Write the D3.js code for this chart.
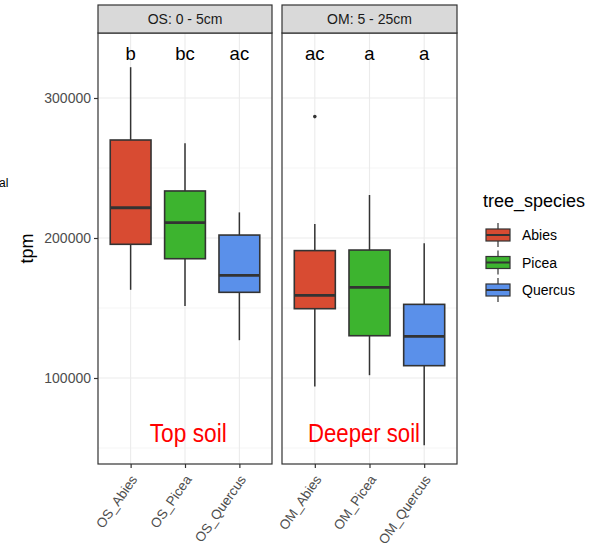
<!DOCTYPE html>
<html>
<head>
<meta charset="utf-8">
<script src="https://cdn.jsdelivr.net/npm/d3@7"></script>
<style>
  body { margin: 0; background: #fff; }
  svg text { font-family: "Liberation Sans", Arial, Helvetica, sans-serif; }
</style>
</head>
<body>
<div id="chart"></div>
<script>
(function () {

	// facets and groups
	var panels = ["OS: 0 - 5cm", "OM: 5 - 25cm"];
	var panelPrefix = ["OS", "OM"];
	var species = ["Abies", "Picea", "Quercus"];
	var speciesColors = ["#d84b32", "#3db42f", "#5a90ea"];

	// box stats, one entry per panel x species (OS first, then OM)
	var whiskerLow = [163000, 151500, 127000, 94000, 102000, 52000];
	var q1 = [195500, 185200, 161200, 149500, 130200, 108800];
	var median = [221600, 211000, 173300, 159000, 164800, 129800];
	var q3 = [270000, 233600, 202100, 191000, 191400, 152600];
	var whiskerHigh = [322000, 267600, 218300, 210000, 230700, 196200];
	var outliers = [[], [], [], [286700], [], []];

	// significance letters above boxes
	var letters = ["b", "bc", "ac", "ac", "a", "a"];
	var letterY = 327000;

	// red annotations per panel
	var annoText = ["Top soil", "Deeper soil"];
	var annoX = [2.06, 1.9];   // in category units
	var annoY = 54300;
	var annoWidth = [77, 112];

	var yTicks = [100000, 200000, 300000];
	var yMinor = [50000, 150000, 250000];
	var yDomain = [38571, 346429];

	var width = 590, height = 550;
	var panelX = [[98, 272], [282, 457]];
	var stripTop = 5, panelTop = 33, panelBottom = 464;

	var svg = d3.select("#chart").append("svg")
		.attr("width", width)
		.attr("height", height);

	var y = d3.scaleLinear().domain(yDomain).range([panelBottom, panelTop]);

	// stray text cut at left margin
	svg.append("text")
		.attr("x", -1)
		.attr("y", 187)
		.attr("font-size", "12px")
		.attr("fill", "#000")
		.text("al");

	panels.forEach(function (p, pi) {
		var x0 = panelX[pi][0], x1 = panelX[pi][1];
		var cats = species.map(function (s) { return panelPrefix[pi] + "_" + s; });
		var x = d3.scalePoint().domain(cats).range([x0, x1]).padding(0.6);
		var step = x.step();
		var g = svg.append("g");

		g.append("rect")
			.attr("x", x0).attr("y", panelTop)
			.attr("width", x1 - x0).attr("height", panelBottom - panelTop)
			.attr("fill", "#fff");

		// grid
		g.selectAll(".minor").data(yMinor).enter().append("line")
			.attr("x1", x0).attr("x2", x1)
			.attr("y1", function (d) { return y(d); })
			.attr("y2", function (d) { return y(d); })
			.attr("stroke", "#f2f2f2").attr("stroke-width", 0.8);
		g.selectAll(".major").data(yTicks).enter().append("line")
			.attr("x1", x0).attr("x2", x1)
			.attr("y1", function (d) { return y(d); })
			.attr("y2", function (d) { return y(d); })
			.attr("stroke", "#ebebeb").attr("stroke-width", 1.1);
		g.selectAll(".vgrid").data(cats).enter().append("line")
			.attr("x1", function (d) { return x(d); })
			.attr("x2", function (d) { return x(d); })
			.attr("y1", panelTop).attr("y2", panelBottom)
			.attr("stroke", "#ebebeb").attr("stroke-width", 1.1);

		var boxes = g.append("g");

		cats.forEach(function (c, si) {
			var i = pi * 3 + si;
			var cx = x(c), bw = step * 0.75;
			boxes.append("line")
				.attr("x1", cx).attr("x2", cx)
				.attr("y1", y(whiskerHigh[i])).attr("y2", y(q3[i]))
				.attr("stroke", "#333").attr("stroke-width", 1.5);
			boxes.append("line")
				.attr("x1", cx).attr("x2", cx)
				.attr("y1", y(q1[i])).attr("y2", y(whiskerLow[i]))
				.attr("stroke", "#333").attr("stroke-width", 1.5);
			boxes.append("rect")
				.attr("x", cx - bw / 2).attr("width", bw)
				.attr("y", y(q3[i])).attr("height", y(q1[i]) - y(q3[i]))
				.attr("fill", speciesColors[si])
				.attr("stroke", "#333").attr("stroke-width", 1.6);
			boxes.append("line")
				.attr("x1", cx - bw / 2).attr("x2", cx + bw / 2)
				.attr("y1", y(median[i])).attr("y2", y(median[i]))
				.attr("stroke", "#333").attr("stroke-width", 2.8);
			outliers[i].forEach(function (o) {
				boxes.append("circle")
					.attr("cx", cx).attr("cy", y(o)).attr("r", 1.8)
					.attr("fill", "#333");
			});
			g.append("text")
				.attr("x", cx).attr("y", y(letterY))
				.attr("text-anchor", "middle")
				.attr("font-size", "18.5px")
				.attr("fill", "#000")
				.text(letters[i]);
		});

		// annotation
		var annoScale = d3.scaleLinear().domain([1, 3]).range([x(cats[0]), x(cats[2])]);
		g.append("text")
			.attr("x", annoScale(annoX[pi]))
			.attr("y", y(annoY))
			.attr("text-anchor", "middle")
			.attr("font-size", "26px")
			.attr("fill", "#ff0000")
			.attr("textLength", annoWidth[pi])
			.attr("lengthAdjust", "spacingAndGlyphs")
			.text(annoText[pi]);

		// panel border
		g.append("rect")
			.attr("x", x0).attr("y", panelTop)
			.attr("width", x1 - x0).attr("height", panelBottom - panelTop)
			.attr("fill", "none").attr("stroke", "#333").attr("stroke-width", 1.2);

		// strip
		g.append("rect")
			.attr("x", x0).attr("y", stripTop)
			.attr("width", x1 - x0).attr("height", panelTop - stripTop)
			.attr("fill", "#d9d9d9").attr("stroke", "#333").attr("stroke-width", 1.2);
		g.append("text")
			.attr("x", (x0 + x1) / 2).attr("y", (stripTop + panelTop) / 2)
			.attr("dy", "0.36em")
			.attr("text-anchor", "middle")
			.attr("font-size", "14px")
			.attr("fill", "#1a1a1a")
			.text(p);

		// x axis
		var xAxis = g.append("g")
			.attr("transform", "translate(0," + panelBottom + ")")
			.call(d3.axisBottom(x).tickSize(4).tickPadding(4));
		xAxis.select(".domain").remove();
		xAxis.selectAll(".tick line").attr("stroke", "#333").attr("stroke-width", 1.2);
		xAxis.selectAll(".tick text")
			.attr("font-size", "13.5px")
			.attr("fill", "#4d4d4d")
			.attr("text-anchor", "end")
			.attr("dy", "0.7em")
			.attr("transform", "translate(-1,10) rotate(-55)")
			.attr("y", 0).attr("x", 0);
	});

	// y axis on left panel
	var yAxis = svg.append("g")
		.attr("transform", "translate(" + panelX[0][0] + ",0)")
		.call(d3.axisLeft(y).tickValues(yTicks).tickSize(4).tickPadding(3).tickFormat(d3.format("d")));
	yAxis.select(".domain").remove();
	yAxis.selectAll(".tick line").attr("stroke", "#333").attr("stroke-width", 1.2);
	yAxis.selectAll(".tick text").attr("font-size", "14px").attr("fill", "#4d4d4d")
		.attr("font-family", "Liberation Sans, Arial, sans-serif");

	svg.append("text")
		.attr("transform", "translate(33," + ((panelTop + panelBottom) / 2) + ") rotate(-90)")
		.attr("text-anchor", "middle")
		.attr("font-size", "18px")
		.attr("fill", "#000")
		.text("tpm");

	// legend
	var legend = svg.append("g").attr("transform", "translate(485,0)");
	legend.append("text")
		.attr("x", -2).attr("y", 207)
		.attr("font-size", "18px")
		.attr("fill", "#000")
		.text("tree_species");
	var keyY = d3.scalePoint().domain(species).range([235, 290]);
	species.forEach(function (s, i) {
		var k = legend.append("g").attr("transform", "translate(0," + keyY(s) + ")");
		k.append("line").attr("x1", 13).attr("x2", 13).attr("y1", -12).attr("y2", 12)
			.attr("stroke", "#333").attr("stroke-width", 1.2);
		k.append("rect").attr("x", 1).attr("y", -6).attr("width", 24).attr("height", 12)
			.attr("fill", speciesColors[i]).attr("stroke", "#333").attr("stroke-width", 1.2);
		k.append("line").attr("x1", 1).attr("x2", 25).attr("y1", 0).attr("y2", 0)
			.attr("stroke", "#333").attr("stroke-width", 2);
		k.append("text").attr("x", 37).attr("y", 0).attr("dy", "0.36em")
			.attr("font-size", "14px").attr("fill", "#000")
			.text(s);
	});
})();
</script>
</body>
</html>
